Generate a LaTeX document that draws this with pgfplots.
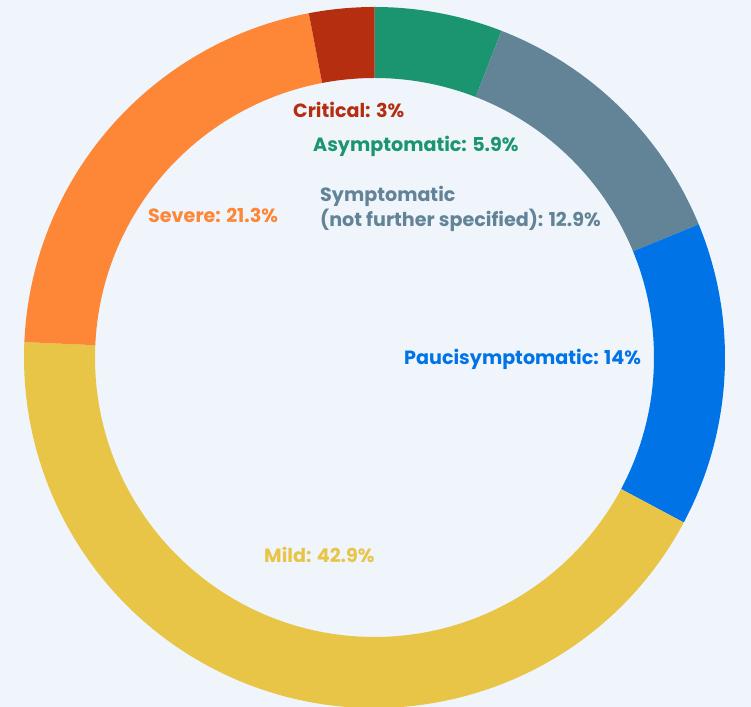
\documentclass[border=0pt]{standalone}
\usepackage{pgfplots}
\usepackage{pgfplotstable}
\pgfplotsset{compat=1.18}
\usepackage{fontspec}
\setmainfont{Poppins}
\definecolor{bg}{HTML}{EFF5FB}
\definecolor{cAsym}{HTML}{1B9570}
\definecolor{cSym}{HTML}{628496}
\definecolor{cPauci}{HTML}{0073E6}
\definecolor{cMild}{HTML}{E8C547}
\definecolor{cSev}{HTML}{FD8637}
\definecolor{cCrit}{HTML}{B62E10}
\pgfplotstableread{
label value color
Asymptomatic 5.9 cAsym
Symptomatic 12.9 cSym
Paucisymptomatic 14 cPauci
Mild 42.9 cMild
Severe 21.3 cSev
Critical 3 cCrit
}\data
\begin{document}
\begin{tikzpicture}
\begin{axis}[name=ax,
  width=751bp, height=707bp, scale only axis,
  xmin=0, xmax=751, ymin=0, ymax=707,
  axis lines=none, ticks=none,
  axis background/.style={fill=bg},
  clip=true]
\def\cx{374.5}\def\cy{349.5}\def\Ro{350.5}\def\Ri{279.5}
\def\cum{0}
\pgfplotsforeachungrouped \i in {0,...,5}{%
  \pgfplotstablegetelem{\i}{value}\of\data \let\v\pgfplotsretval
  \pgfplotstablegetelem{\i}{color}\of\data \let\c\pgfplotsretval
  \pgfmathsetmacro\a{90-3.6*\cum}%
  \pgfmathsetmacro\b{90-3.6*(\cum+\v)}%
  \pgfmathsetmacro\xa{\cx+\Ro*cos(\a)}%
  \pgfmathsetmacro\ya{\cy+\Ro*sin(\a)}%
  \pgfmathsetmacro\xb{\cx+\Ri*cos(\b)}%
  \pgfmathsetmacro\yb{\cy+\Ri*sin(\b)}%
  \edef\cmd{\noexpand\fill[\c] (axis cs:\xa,\ya) arc[start angle=\a, end angle=\b, radius=\Ro bp] -- (axis cs:\xb,\yb) arc[start angle=\b, end angle=\a, radius=\Ri bp] -- cycle;}%
  \cmd
  \pgfmathsetmacro\cum{\cum+\v}%
}
\begin{scope}[font=\fontsize{19.2}{25}\selectfont\bfseries]
\node[anchor=base west, text=cCrit, inner sep=0pt] at (axis cs:293,589) {Critical: 3\%};
\node[anchor=base west, text=cAsym, inner sep=0pt] at (axis cs:313,555) {Asymptomatic: 5.9\%};
\node[anchor=base west, text=cSym, inner sep=0pt] at (axis cs:320,505) {Symptomatic};
\node[anchor=base west, text=cSym, inner sep=0pt] at (axis cs:320,480) {(not further specified): 12.9\%};
\node[anchor=base west, text=cSev, inner sep=0pt] at (axis cs:148,484) {Severe: 21.3\%};
\node[anchor=base west, text=cPauci, inner sep=0pt] at (axis cs:404,342) {Paucisymptomatic: 14\%};
\node[anchor=base west, text=cMild, inner sep=0pt] at (axis cs:264,144) {Mild: 42.9\%};
\end{scope}
\end{axis}
\pgfresetboundingbox
\useasboundingbox (ax.south west) rectangle (ax.north east);
\end{tikzpicture}
\end{document}
